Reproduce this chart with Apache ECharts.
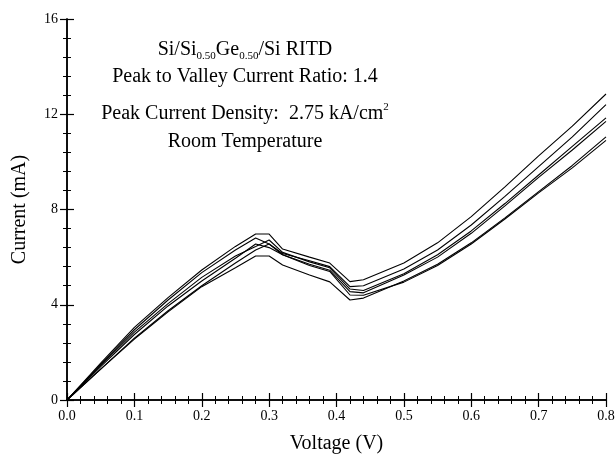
<!DOCTYPE html>
<html>
<head>
<meta charset="utf-8">
<script src="https://cdn.jsdelivr.net/npm/echarts@6/dist/echarts.min.js"></script>
<style>
  html, body { margin: 0; padding: 0; background: #fff; }
  #chart { width: 615px; height: 455px; }
</style>
</head>
<body>
<div id="chart"></div>
<script>
// voltage sweep points (V)
const voltage = [0, 0.05, 0.1, 0.15, 0.2, 0.25, 0.28, 0.3, 0.32, 0.36, 0.39, 0.42, 0.44, 0.5, 0.55, 0.6, 0.65, 0.7, 0.75, 0.8];
// current (mA) for each measured device
const curve1 = [0, 1.55, 3.05, 4.3, 5.46, 6.45, 6.97, 6.97, 6.34, 6.0, 5.75, 4.97, 5.05, 5.75, 6.6, 7.7, 8.95, 10.25, 11.5, 12.85];
const curve2 = [0, 1.5, 2.95, 4.2, 5.35, 6.3, 6.8, 6.55, 6.15, 5.85, 5.6, 4.76, 4.8, 5.5, 6.3, 7.35, 8.55, 9.8, 11.05, 12.4];
const curve3 = [0, 1.45, 2.85, 4.05, 5.15, 6.05, 6.45, 6.72, 6.2, 5.8, 5.55, 4.66, 4.6, 5.3, 6.1, 7.1, 8.25, 9.45, 10.65, 11.85];
const curve4 = [0, 1.4, 2.75, 3.95, 5.0, 5.95, 6.55, 6.4, 6.1, 5.7, 5.45, 4.55, 4.5, 5.25, 6.0, 7.0, 8.15, 9.35, 10.5, 11.7];
const curve5 = [0, 1.3, 2.56, 3.7, 4.76, 5.55, 6.05, 6.05, 5.67, 5.25, 4.96, 4.2, 4.28, 5.0, 5.7, 6.6, 7.65, 8.75, 9.85, 11.05];
const curve6 = [0, 1.3, 2.6, 3.75, 4.8, 5.75, 6.3, 6.55, 6.1, 5.65, 5.4, 4.41, 4.4, 4.95, 5.65, 6.55, 7.6, 8.7, 9.75, 10.9];
const curves = [curve1, curve2, curve3, curve4, curve5, curve6];

const yTicks = [0, 4, 8, 12, 16];

const font = '"Liberation Serif", "DejaVu Serif", serif';
const black = '#000';

const axisCommon = {
  axisLine: { show: true, lineStyle: { color: black, width: 1.5 } },
  axisTick: { show: true, inside: true, length: 7, lineStyle: { color: black, width: 1.2 } },
  minorTick: { show: true, splitNumber: 5, length: 4, lineStyle: { color: black, width: 1 } },
  splitLine: { show: false },
  minorSplitLine: { show: false }
};

const chart = echarts.init(document.getElementById('chart'));

const textCenterX = 245;
const mkText = (y, text, rich) => ({
  type: 'text', x: textCenterX, y: y, z: 10,
  style: {
    text: text, font: '20px ' + font, fill: black,
    align: 'center', verticalAlign: 'middle',
    lineHeight: 24,
    rich: rich
  }
});

const option = {
  backgroundColor: '#fff',
  animation: false,
  grid: { left: 67, right: 9, top: 19, bottom: 55, outerBoundsMode: 'none', containLabel: false },
  xAxis: [
    Object.assign({
      type: 'value', min: 0, max: 0.8, interval: 0.1, position: 'bottom',
      name: 'Voltage (V)', nameLocation: 'middle', nameGap: 34,
      nameTextStyle: { fontFamily: font, fontSize: 20, color: black },
      axisLabel: { fontFamily: font, fontSize: 14, color: black, margin: 9,
        formatter: v => v.toFixed(1) }
    }, axisCommon),
    Object.assign({
      type: 'value', min: 0, max: 0.8, interval: 0.1, position: 'top',
      axisLabel: { show: false }
    }, axisCommon)
  ],
  yAxis: [
    Object.assign({
      type: 'value', min: 0, max: 16, interval: 4, position: 'left',
      name: 'Current (mA)', nameLocation: 'middle', nameGap: 37,
      nameTextStyle: { fontFamily: font, fontSize: 20, color: black },
      axisLabel: { fontFamily: font, fontSize: 14, color: black, margin: 9,
        formatter: v => yTicks.includes(v) ? String(v) : '' }
    }, axisCommon),
    Object.assign({
      type: 'value', min: 0, max: 16, interval: 4, position: 'right',
      axisLabel: { show: false }
    }, axisCommon)
  ],
  series: curves.map(c => ({
    type: 'line',
    xAxisIndex: 0,
    yAxisIndex: 0,
    showSymbol: false,
    smooth: false,
    lineStyle: { color: black, width: 1.1 },
    data: voltage.map((v, i) => [v, c[i]])
  })),
  graphic: [
    mkText(50, 'Si/Si{sub|0.50}Ge{sub|0.50}/Si RITD',
      { sub: { fontSize: 11, fontFamily: font, fill: black, verticalAlign: 'bottom', lineHeight: 10 } }),
    mkText(77, 'Peak to Valley Current Ratio: 1.4'),
    mkText(114, 'Peak Current Density:  2.75 kA/cm{sup|2}',
      { sup: { fontSize: 11, fontFamily: font, fill: black, verticalAlign: 'top', lineHeight: 10 } }),
    mkText(142, 'Room Temperature')
  ]
};

chart.setOption(option);
</script>
</body>
</html>
